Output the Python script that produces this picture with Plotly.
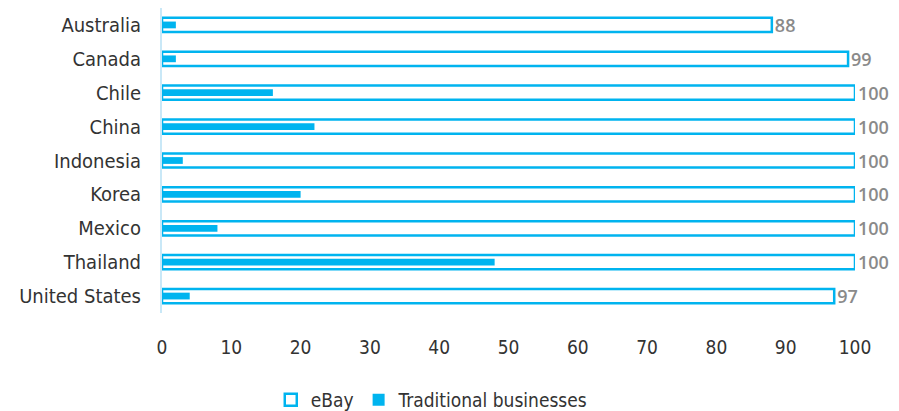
import plotly.graph_objects as go

countries = ["Australia", "Canada", "Chile", "China", "Indonesia", "Korea",
             "Mexico", "Thailand", "United States"]
ebay = [88, 99, 100, 100, 100, 100, 100, 100, 97]
traditional = [2, 2, 16, 22, 3, 20, 8, 48, 4]
x_ticks = [0, 10, 20, 30, 40, 50, 60, 70, 80, 90, 100]

CYAN = "#00b4ef"
NARROW = "DejaVu Sans Condensed, Liberation Sans Narrow, sans-serif"

fig = go.Figure()
fig.add_trace(go.Bar(
    y=countries, x=ebay, orientation="h", name="eBay",
    width=0.42,
    marker=dict(color="white", line=dict(color=CYAN, width=2.5)),
    text=[str(v) for v in ebay], textposition="outside", constraintext="none",
    textfont=dict(family="Open Sans, sans-serif", size=18, color="#8a8a8a", weight=600),
    cliponaxis=False,
))
fig.add_trace(go.Bar(
    y=countries, x=traditional, orientation="h", name="Traditional businesses",
    width=0.2,
    marker=dict(color=CYAN, line=dict(width=0)),
))

fig.update_layout(
    width=891, height=411,
    barmode="overlay",
    plot_bgcolor="white", paper_bgcolor="white",
    margin=dict(l=154, r=44, t=0, b=106),
    font=dict(family=NARROW, size=18, color="#333333"),
    showlegend=True,
    legend=dict(orientation="h", x=0.39, xanchor="center", y=-0.285,
                yanchor="middle", font=dict(family=NARROW, size=19, color="#333333"),
                itemwidth=30, traceorder="normal"),
    xaxis=dict(range=[0, 100], tickvals=x_ticks, showgrid=False, zeroline=False,
               showline=False, ticks="outside", ticklen=0, ticklabelstandoff=17,
               tickfont=dict(family=NARROW, size=19, color="#333333")),
    yaxis=dict(autorange="reversed", showgrid=False, zeroline=False,
               showline=True, linecolor="#c9e8f7", linewidth=2,
               ticks="outside", ticklen=0, ticklabelstandoff=15,
               tickfont=dict(family=NARROW, size=20, color="#333333")),
)

fig.write_html("out.html")
